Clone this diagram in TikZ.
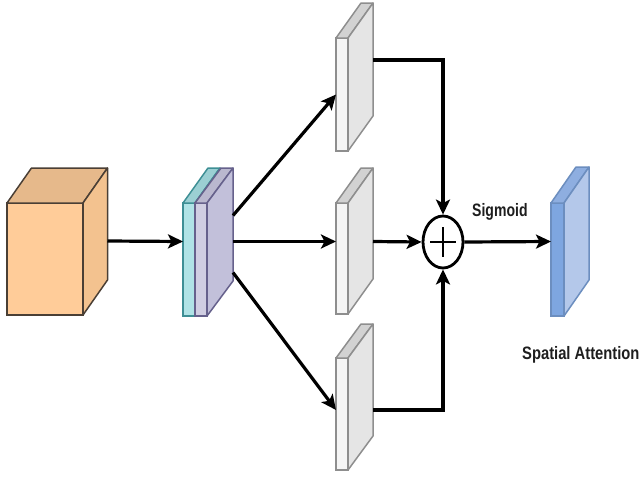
\documentclass[tikz,border=0pt]{standalone}
\usepackage{fontspec}
\setmainfont{Liberation Sans}
\usetikzlibrary{arrows.meta,shapes.geometric}
\definecolor{orF}{HTML}{FFCC99}\definecolor{orT}{HTML}{E6B98B}\definecolor{orS}{HTML}{F3C28F}\definecolor{orD}{HTML}{4A3F35}
\definecolor{cyF}{HTML}{B0E3E6}\definecolor{cyT}{HTML}{9BCFD3}\definecolor{cyD}{HTML}{3E8F95}
\definecolor{puF}{HTML}{D0CEE2}\definecolor{puT}{HTML}{BAB8CF}\definecolor{puS}{HTML}{C2C0DA}\definecolor{puD}{HTML}{66618C}
\definecolor{grF}{HTML}{F5F5F5}\definecolor{grT}{HTML}{D2D2D2}\definecolor{grS}{HTML}{E5E5E5}\definecolor{grD}{HTML}{8E8E8E}
\definecolor{blF}{HTML}{7EA6E0}\definecolor{blT}{HTML}{8EAEE0}\definecolor{blS}{HTML}{B4C8EA}\definecolor{blD}{HTML}{6C8EBF}
\definecolor{txt}{HTML}{1E1E1E}
\newcommand{\boxfaces}[6]{% name, dx, dy, top, side, stroke
  \draw[line width=1.5pt,draw=#6,fill=#4,line join=round] (#1.north west) -- ([shift={(#2,#3)}]#1.north west) -- ([shift={(#2,#3)}]#1.north east) -- (#1.north east) -- cycle;
  \draw[line width=1.5pt,draw=#6,fill=#5,line join=round] (#1.north east) -- ([shift={(#2,#3)}]#1.north east) -- ([shift={(#2,#3)}]#1.south east) -- (#1.south east) -- cycle;
}
\tikzset{
  face/.style={rectangle,inner sep=0pt,outer sep=0pt,line width=1.5pt},
  arr/.style={line width=3.2pt,-{Stealth[length=15pt,width=14pt,inset=3.5pt]}},
  lbl/.style={inner sep=0pt,anchor=base west,text=txt,font=\fontsize{18}{21}\selectfont\bfseries}
}
\begin{document}
\begin{tikzpicture}[x=1pt,y=-1pt]
\useasboundingbox[fill=white] (0,0) rectangle (643,477);
% input cube
\node[face,draw=orD,fill=orF,minimum width=76pt,minimum height=112pt] (cube) at (45,259) {};
\boxfaces{cube}{24.5}{-35}{orT}{orS}{orD}
% stacked feature slabs
\node[face,draw=cyD,fill=cyF,minimum width=12pt,minimum height=113pt] (cyan) at (189,259.5) {};
\boxfaces{cyan}{25}{-35}{cyT}{cyT}{cyD}
\node[face,draw=puD,fill=puF,minimum width=12pt,minimum height=113pt] (purple) at (201,259.5) {};
\boxfaces{purple}{26}{-35}{puT}{puS}{puD}
% gray slabs
\node[face,draw=grD,fill=grF,minimum width=12pt,minimum height=113pt] (g1) at (342,94.5) {};
\boxfaces{g1}{25}{-35}{grT}{grS}{grD}
\node[face,draw=grD,fill=grF,minimum width=12pt,minimum height=111pt] (g2) at (342,258.5) {};
\boxfaces{g2}{25}{-35}{grT}{grS}{grD}
\node[face,draw=grD,fill=grF,minimum width=12pt,minimum height=112pt] (g3) at (342,414) {};
\boxfaces{g3}{25}{-34}{grT}{grS}{grD}
% output slab
\node[face,draw=blD,fill=blF,minimum width=13pt,minimum height=113pt] (blue) at (557.5,259.5) {};
\boxfaces{blue}{25}{-36}{blT}{blS}{blD}
% plus
\node[ellipse,draw=black,line width=2.8pt,minimum width=40pt,minimum height=52pt,inner sep=0pt] (plus) at (443,242) {};
\draw[line width=2.6pt] ([shift={(-13,0)}]plus.center) -- ([shift={(13,0)}]plus.center);
\draw[line width=2.6pt] ([shift={(0,-15)}]plus.center) -- ([shift={(0,15)}]plus.center);
% connectors
\draw[arr] ([shift={(24.5,-18)}]cube.east) -- ([shift={(0,-18)}]cyan.west);
\draw[arr] ([shift={(26,-18)}]purple.east) -- ([shift={(0,-17)}]g2.west);
\draw[arr] ([shift={(26,-44)}]purple.east) -- (g1.west);
\draw[arr] ([shift={(26,13)}]purple.east) -- ([shift={(0,-4)}]g3.west);
\draw[arr] ([shift={(25,-34.5)}]g1.east) -| (plus.north);
\draw[arr] ([shift={(25,-17)}]g2.east) -- (plus.west);
\draw[arr] ([shift={(25,-4)}]g3.east) -| (plus.south);
\draw[arr] (plus.east) -- ([shift={(0,-18)}]blue.west);
% labels
\node[lbl] (sig) at (472,216) {\scalebox{0.78}[1]{Sigmoid}};
\node[lbl] (sa) at (522,359) {\scalebox{0.82}[1]{Spatial Attention}};
\end{tikzpicture}
\end{document}
